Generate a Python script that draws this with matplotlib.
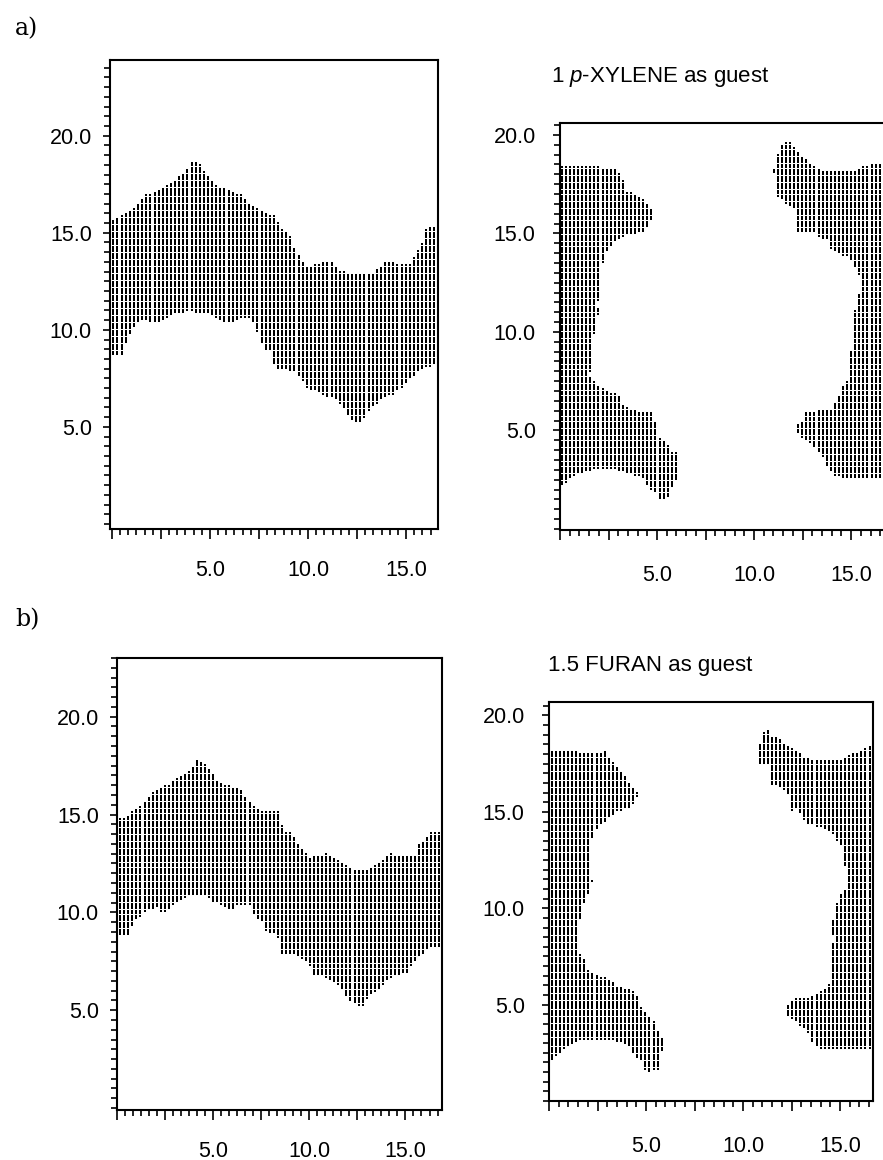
import numpy as np
import matplotlib
matplotlib.use("Agg")
import matplotlib.pyplot as plt
from matplotlib.path import Path
from matplotlib.ticker import MultipleLocator, FixedLocator, FuncFormatter

W, H = 883, 1160

# a) left: channel band, upper and lower edge
a_top_x = [0.07, 0.49, 0.92, 1.34, 1.6, 2.02, 2.45, 3.04, 3.38, 3.72, 3.98, 4.06, 4.6, 4.74,
           5.08, 5.43, 5.94, 6.28, 6.62, 6.87, 7.21, 7.64, 7.98, 8.4, 8.57, 9.0, 9.25, 9.5,
           9.85, 10.19, 10.7, 11.2, 11.55, 11.97, 12.57, 13.25, 13.59, 14.0, 14.6, 15.2,
           15.5, 15.88, 16.05, 16.56]
a_top_y = [15.67, 15.88, 16.1, 16.5, 16.87, 17.05, 17.25, 17.56, 17.9, 18.16, 18.5, 18.67, 18.5,
           18.08, 17.77, 17.39, 17.22, 17.05, 16.96, 16.62, 16.36, 16.1, 15.93, 15.88, 15.15,
           15.07, 14.3, 13.87, 13.3, 13.26, 13.44, 13.52, 13.1, 12.92, 12.92, 12.92, 13.18,
           13.57, 13.35, 13.35, 13.87, 14.64, 15.24, 15.24]
a_bot_x = [0.07, 0.58, 0.75, 1.0, 1.26, 1.51, 2.2, 2.7, 3.3, 3.9, 4.74, 5.08, 5.6, 6.2, 6.45,
           7.13, 7.38, 7.55, 7.72, 8.06, 8.31, 8.83, 9.34, 9.68, 10.0, 10.44, 10.87, 11.38,
           11.72, 12.06, 12.6, 12.82, 13.16, 13.5, 13.93, 14.44, 14.78, 15.12, 15.54, 15.8,
           16.13, 16.56]
a_bot_y = [8.71, 8.71, 9.48, 9.91, 10.38, 10.51, 10.34, 10.51, 10.85, 10.94, 10.89, 10.77,
           10.43, 10.43, 10.6, 10.6, 10.0, 9.66, 8.88, 8.88, 8.06, 7.94, 7.85, 7.45, 6.94,
           6.94, 6.56, 6.51, 6.05, 5.53, 5.15, 5.44, 5.87, 6.22, 6.56, 6.73, 7.08, 7.42,
           7.77, 7.97, 8.1, 8.19]

# b) left: channel band
b_top_x = [0.17, 0.58, 1.0, 1.45, 1.8, 2.06, 2.58, 3.1, 3.63, 3.98, 4.15, 4.59, 4.85, 5.2,
           5.72, 6.42, 6.77, 7.12, 7.56, 8.52, 8.6, 9.13, 9.3, 9.74, 9.91, 10.6, 10.96, 11.4,
           11.83, 12.27, 13.14, 13.4, 13.75, 14.28, 14.45, 15.5, 15.67, 16.02, 16.28, 16.8]
b_top_y = [14.79, 14.9, 15.32, 15.64, 16.17, 16.28, 16.49, 16.8, 17.13, 17.55, 17.83, 17.62,
           17.28, 16.77, 16.49, 16.38, 15.79, 15.43, 15.21, 15.21, 14.1, 14.1, 13.62, 13.19,
           12.83, 12.87, 13.02, 12.72, 12.55, 12.23, 12.23, 12.45, 12.66, 13.02, 12.87, 12.87,
           13.51, 13.72, 14.15, 14.15]
b_bot_x = [0.17, 0.66, 0.84, 1.19, 1.45, 2.06, 2.32, 2.67, 2.93, 3.46, 3.8, 4.68, 4.85, 5.38,
           5.9, 6.25, 6.95, 7.12, 7.47, 7.82, 8.34, 8.43, 9.3, 9.56, 9.91, 10.26, 10.96, 11.22,
           11.57, 11.83, 12.27, 12.7, 13.14, 13.49, 13.84, 14.19, 14.62, 15.06, 15.32, 15.67,
           16.1, 16.37, 16.8]
b_bot_y = [8.83, 8.83, 9.47, 9.79, 10.1, 10.21, 10.0, 10.1, 10.43, 10.64, 10.85, 10.85, 10.6,
           10.43, 10.04, 10.32, 10.32, 9.79, 9.57, 8.94, 8.94, 7.83, 7.83, 7.66, 7.45, 6.81,
           6.7, 6.49, 6.28, 5.85, 5.32, 5.15, 5.74, 5.96, 6.38, 6.6, 6.81, 6.91, 7.34, 7.66,
           8.09, 8.19, 8.3]

# a) right (p-xylene): two guest-free regions, outlines
xyl_left_x = [-0.05, 0.09, 2.77, 3.11, 3.45, 4.05, 4.57, 4.9, 4.57, 4.4, 3.54, 3.02, 2.6, 2.34,
              2.16, 2.16, 1.9, 2.16, 1.8, 1.8, 1.63, 1.55, 1.8, 2.16, 3.02, 3.28, 4.05, 4.74,
              5.0, 5.07, 5.41, 5.76, 6.01, 6.18, 6.01, 5.76, 5.76, 5.16, 5.0, 4.48, 4.22, 3.62,
              3.02, 1.8, 1.12, 0.6, 0.17, -0.05]
xyl_left_y = [18.48, 18.48, 18.32, 17.98, 17.14, 16.89, 16.46, 15.87, 15.54, 15.03, 14.95,
              14.7, 14.36, 14.02, 13.43, 12.0, 11.33, 11.16, 10.65, 9.98, 9.64, 7.79, 7.46,
              7.12, 6.78, 6.27, 5.94, 5.94, 5.27, 4.6, 4.5, 3.92, 3.92, 2.91, 2.57, 2.15, 1.65,
              1.4, 1.73, 2.24, 2.66, 2.83, 3.0, 3.08, 2.83, 2.66, 2.24, 2.24]
xyl_right_x = [11.25, 11.94, 12.2, 12.71, 13.23, 13.66, 15.12, 15.55, 16.58, 16.8, 16.8, 15.64,
               14.17, 13.83, 13.4, 12.88, 12.45, 12.2, 12.11, 12.54, 12.63, 14.0, 14.26, 14.52,
               14.86, 14.95, 15.03, 15.12, 15.21, 15.47, 15.47, 15.29, 14.86, 14.17, 13.83,
               13.74, 13.23, 13.14, 12.28, 12.2, 12.11, 11.68, 11.42, 11.08, 11.08, 10.82,
               11.08, 11.25]
xyl_right_y = [19.5, 19.66, 19.16, 18.74, 18.32, 18.15, 18.15, 18.4, 18.57, 18.57, 2.58, 2.58,
               2.66, 3.08, 3.84, 4.35, 4.68, 4.93, 5.27, 5.52, 5.94, 6.1, 6.61, 7.12, 7.62,
               8.46, 9.47, 10.48, 11.16, 12.17, 12.84, 13.18, 13.77, 14.11, 14.19, 14.7, 14.78,
               15.03, 15.03, 15.54, 16.21, 16.46, 16.8, 16.97, 18.06, 18.06, 18.4, 19.1]

# b) right (furan)
fur_left_x = [-0.05, 0.14, 1.34, 1.51, 2.71, 2.97, 3.06, 3.57, 4.0, 4.26, 4.61, 4.43, 4.17,
              3.57, 3.14, 2.37, 2.11, 2.11, 2.28, 2.02, 1.77, 1.6, 1.51, 1.77, 2.02, 2.71, 3.2,
              3.6, 4.3, 4.6, 4.8, 5.3, 5.6, 5.9, 6.0, 5.7, 5.6, 5.0, 4.8, 4.4, 4.1, 3.5, 2.5,
              1.6, 0.9, 0.5, 0.1, -0.05]
fur_left_y = [18.22, 18.22, 18.22, 18.02, 18.02, 18.22, 17.84, 17.32, 16.72, 16.37, 15.94,
              15.6, 15.25, 15.08, 14.74, 14.05, 13.19, 11.63, 11.46, 10.77, 10.08, 9.39, 7.66,
              7.49, 6.8, 6.45, 6.2, 5.9, 5.8, 5.4, 4.7, 4.3, 3.6, 3.2, 2.7, 2.6, 1.6, 1.5, 2.0,
              2.4, 2.9, 3.1, 3.2, 3.2, 2.8, 2.4, 2.1, 2.1]
fur_right_x = [11.13, 11.39, 11.48, 11.73, 12.25, 12.77, 13.2, 13.63, 15.0, 15.34, 15.77, 16.2,
               16.46, 16.6, 16.6, 14.1, 13.6, 13.5, 13.0, 12.6, 12.2, 12.3, 12.6, 13.4, 14.0,
               14.4, 14.57, 14.57, 14.66, 14.4, 14.57, 14.74, 14.91, 15.26, 15.26, 15.17,
               14.91, 14.74, 14.4, 14.05, 13.37, 13.2, 12.77, 12.42, 12.42, 11.99, 11.39,
               11.3, 10.7, 10.7, 11.13]
fur_right_y = [19.31, 19.31, 18.88, 18.88, 18.45, 18.19, 17.84, 17.67, 17.67, 17.93, 18.02,
               18.28, 18.45, 18.45, 2.7, 2.7, 2.9, 3.4, 3.9, 4.2, 4.5, 5.0, 5.3, 5.3, 5.7, 6.0,
               6.45, 7.49, 8.53, 8.96, 9.22, 9.91, 10.6, 10.94, 12.15, 13.1, 13.36, 13.71,
               14.05, 14.22, 14.31, 14.57, 15.17, 15.08, 15.77, 16.29, 16.46, 17.5, 17.5, 18.1,
               19.31]

titles = ["1 $\\mathit{p}$-XYLENE as guest", "1.5 FURAN as guest"]
y_labels = [5.0, 10.0, 15.0, 20.0]

DX, DY = 0.21, 0.12


def dot_fill(ax, px, py, x0=0.07):
    poly = Path(np.column_stack([px, py]))
    gx = np.arange(x0, 17.0, DX)
    gy = np.arange(0.0, 24.0, DY)
    X, Y = np.meshgrid(gx, gy)
    pts = np.column_stack([X.ravel(), Y.ravel()])
    inside = poly.contains_points(pts)
    ax.scatter(pts[inside, 0], pts[inside, 1], s=4.6, marker="s", c="black",
               linewidths=0, zorder=2)


def band(top_x, top_y, bot_x, bot_y):
    px = list(top_x) + list(bot_x[::-1])
    py = list(top_y) + list(bot_y[::-1])
    px[0] -= 0.05
    px[len(top_x) - 1] += 0.05
    px[len(top_x)] += 0.05
    px[-1] -= 0.05
    return px, py


def make_axes(fig, l, r, t, b):
    return fig.add_axes([l / W, 1 - b / H, (r - l) / W, (b - t) / H])


def style(ax, xlim, ylim, xminor, xpad, ypad):
    ax.set_xlim(*xlim)
    ax.set_ylim(*ylim)
    for s in ax.spines.values():
        s.set_linewidth(1.5)
    ax.xaxis.set_major_locator(FixedLocator([0, 2.5, 5, 7.5, 10, 12.5, 15]))
    ax.xaxis.set_minor_locator(MultipleLocator(xminor))
    ax.xaxis.set_major_formatter(FuncFormatter(lambda v, p: f"{v:.1f}" if v in (5, 10, 15) else ""))
    ax.yaxis.set_major_locator(FixedLocator(y_labels))
    ax.yaxis.set_minor_locator(MultipleLocator(0.5))
    ax.yaxis.set_major_formatter(FuncFormatter(lambda v, p: f"{v:.1f}"))
    ax.tick_params(axis="x", which="major", direction="out", length=7, width=1.2,
                   labelsize=15.5, pad=xpad)
    ax.tick_params(axis="x", which="minor", direction="out", length=4.5, width=1.2)
    ax.tick_params(axis="y", which="major", direction="out", length=5, width=1.2,
                   labelsize=15.5, pad=ypad)
    ax.tick_params(axis="y", which="minor", direction="out", length=4, width=1.2)


plt.rcParams["font.family"] = "Liberation Sans"
plt.rcParams["mathtext.fontset"] = "custom"
plt.rcParams["mathtext.it"] = "Liberation Sans:italic"
plt.rcParams["mathtext.rm"] = "Liberation Sans"

fig = plt.figure(figsize=(W / 100, H / 100), dpi=100)

# a) left
ax1 = make_axes(fig, 110, 438, 60, 529)
px, py = band(a_top_x, a_top_y, a_bot_x, a_bot_y)
dot_fill(ax1, px, py)
style(ax1, (-0.1, 16.63), (-0.26, 23.9), 2.5 / 6, 15, 8)

# a) right
ax2 = make_axes(fig, 560, 888, 123, 530)
dot_fill(ax2, xyl_left_x, xyl_left_y, 0.09)
dot_fill(ax2, xyl_right_x, xyl_right_y, 0.09)
style(ax2, (0, 16.9), (-0.05, 20.6), 0.5, 18, 12.5)

# b) left
ax3 = make_axes(fig, 117, 442, 658, 1110)
px, py = band(b_top_x, b_top_y, b_bot_x, b_bot_y)
dot_fill(ax3, px, py, 0.17)
style(ax3, (0, 16.9), (-0.1, 23.0), 2.5 / 6, 15, 8)

# b) right
ax4 = make_axes(fig, 549, 873, 702, 1101)
dot_fill(ax4, fur_left_x, fur_left_y, 0.14)
dot_fill(ax4, fur_right_x, fur_right_y, 0.14)
style(ax4, (0, 16.7), (0, 20.7), 0.5, 18, 12.5)

fig.text(551 / W, 1 - 77 / H, titles[0], fontsize=16, va="center", ha="left")
fig.text(548 / W, 1 - 665 / H, titles[1], fontsize=16, va="center", ha="left")
fig.text(15 / W, 1 - 29 / H, "a)", fontsize=17, family="DejaVu Serif", va="center")
fig.text(15 / W, 1 - 620 / H, "b)", fontsize=17, family="DejaVu Serif", va="center")

fig.savefig("out.png", dpi=100)
